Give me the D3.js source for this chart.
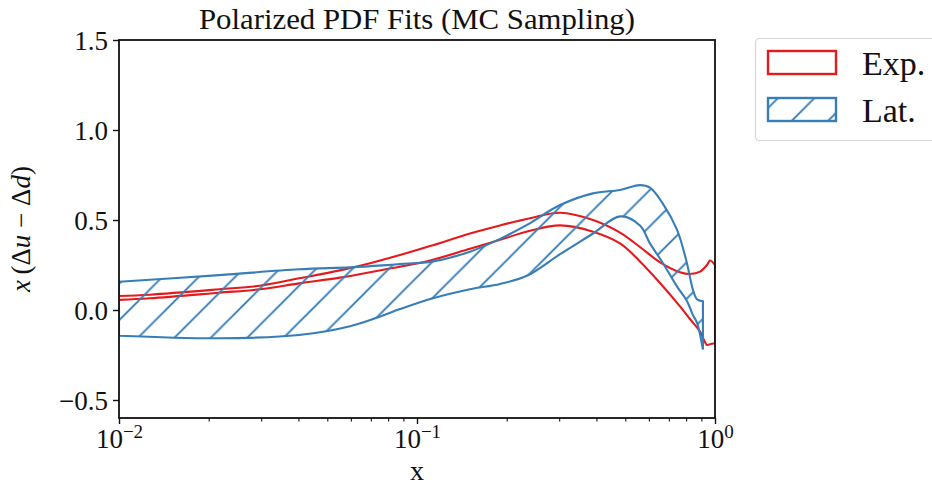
<!DOCTYPE html>
<html>
<head>
<meta charset="utf-8">
<script src="https://cdn.jsdelivr.net/npm/d3@7"></script>
<style>
  body { margin: 0; background: #fff; }
  text { font-family: "Liberation Serif", "DejaVu Serif", serif; fill: #111; }
</style>
</head>
<body>
<div id="chart"></div>
<script>
// Exp. band (red): upper / lower bound on a shared x grid
const expX  = [0.01, 0.0127, 0.0217, 0.0297, 0.0402, 0.0551, 0.0696, 0.0877, 0.1106, 0.1506, 0.19, 0.2394, 0.302, 0.3896, 0.48, 0.56, 0.654, 0.763, 0.824, 0.891, 0.94, 0.962, 1.0];
const expHi = [0.078, 0.085, 0.115, 0.135, 0.176, 0.22, 0.26, 0.305, 0.355, 0.425, 0.47, 0.51, 0.54, 0.50, 0.43, 0.35, 0.265, 0.21, 0.20, 0.213, 0.25, 0.275, 0.25];
const expLo = [0.056, 0.065, 0.096, 0.115, 0.148, 0.18, 0.21, 0.24, 0.275, 0.34, 0.39, 0.44, 0.47, 0.435, 0.37, 0.27, 0.15, 0.02, -0.05, -0.12, -0.194, -0.19, -0.185];

// Lat. band (blue, hatched)
const latX  = [0.01, 0.0217, 0.0402, 0.0596, 0.0769, 0.0877, 0.1132, 0.1506, 0.19, 0.2339, 0.302, 0.3896, 0.48, 0.56, 0.605, 0.669, 0.746, 0.805, 0.844, 0.870, 0.911];
const latHi = [0.157, 0.194, 0.226, 0.237, 0.248, 0.255, 0.27, 0.324, 0.395, 0.473, 0.583, 0.648, 0.667, 0.694, 0.68, 0.59, 0.445, 0.26, 0.11, 0.06, 0.048];
const latLo = [-0.143, -0.157, -0.139, -0.09, -0.03, 0.005, 0.065, 0.115, 0.145, 0.19, 0.31, 0.425, 0.52, 0.47, 0.37, 0.26, 0.13, 0.05, -0.03, -0.07, -0.22];

const yTicks = [-0.5, 0.0, 0.5, 1.0, 1.5];
const xMajor = [0.01, 0.1, 1];
const xMinor = [];
[0.01, 0.1].forEach(d => { for (let k = 2; k <= 9; k++) xMinor.push(d * k); });
const xExp = ["\u22122", "\u22121", "0"];
const legendLabels = ["Exp.", "Lat."];

const colRed = "#e41a1c", colBlue = "#377eb8";
const W = 932, H = 486;
const plot = { left: 119, right: 715, top: 40, bottom: 418 };

const svg = d3.select("#chart").append("svg").attr("width", W).attr("height", H);

const x = d3.scaleLog().domain([0.01, 1]).range([plot.left, plot.right]);
const y = d3.scaleLinear().domain([-0.6, 1.5]).range([plot.bottom, plot.top]);

// hatch pattern, in page coordinates
const P = 36.4, ph = 2.5;
const defs = svg.append("defs");
const pat = defs.append("pattern")
    .attr("id", "hatch")
    .attr("patternUnits", "userSpaceOnUse")
    .attr("width", P).attr("height", P);
pat.append("path")
    .attr("d", `M-2,${ph + 2}L${ph + 2},-2M${ph - 2},${P + 2}L${P + 2},${ph - 2}`)
    .attr("stroke", colBlue).attr("stroke-width", 1.9).attr("fill", "none");

defs.append("clipPath").attr("id", "clip")
  .append("rect")
    .attr("x", plot.left).attr("y", plot.top)
    .attr("width", plot.right - plot.left).attr("height", plot.bottom - plot.top);

const band = (xs, lo, hi) => d3.area()
    .x((d, i) => x(xs[i]))
    .y0((d, i) => y(lo[i]))
    .y1((d, i) => y(hi[i]))
    .curve(d3.curveCatmullRom.alpha(0.5))(xs);

const g = svg.append("g").attr("clip-path", "url(#clip)");
g.append("path")
    .attr("d", band(expX, expLo, expHi))
    .attr("fill", "none").attr("stroke", colRed).attr("stroke-width", 2.1);
g.append("path")
    .attr("d", band(latX, latLo, latHi))
    .attr("fill", "url(#hatch)").attr("stroke", colBlue).attr("stroke-width", 2.1);

// y axis
const yAxis = svg.append("g")
    .attr("transform", `translate(${plot.left},0)`)
    .call(d3.axisLeft(y).tickValues(yTicks).tickSize(6).tickPadding(5)
        .tickFormat(d => d3.format(".1f")(d).replace("-", "\u2212")));
yAxis.select(".domain").remove();
yAxis.selectAll("line").attr("stroke", "#111").attr("stroke-width", 1.4);
yAxis.selectAll("text").attr("font-size", 27).attr("dy", "0.34em")
    .style("font-family", "'Liberation Serif', serif");

// x axis: minor then major ticks
const xMinAxis = svg.append("g")
    .attr("transform", `translate(0,${plot.bottom})`)
    .call(d3.axisBottom(x).tickValues(xMinor).tickSize(3.5).tickFormat(""));
xMinAxis.select(".domain").remove();
xMinAxis.selectAll("line").attr("stroke", "#111").attr("stroke-width", 1.1);

const xAxis = svg.append("g")
    .attr("transform", `translate(0,${plot.bottom})`)
    .call(d3.axisBottom(x).tickValues(xMajor).tickSize(6).tickFormat(""));
xAxis.select(".domain").remove();
xAxis.selectAll("line").attr("stroke", "#111").attr("stroke-width", 1.4);
xAxis.selectAll(".tick").each(function(d, i) {
  const t = d3.select(this).append("text")
      .attr("y", 30).attr("text-anchor", "middle")
      .attr("font-size", 27).attr("fill", "#111")
      .style("font-family", "'Liberation Serif', serif");
  t.append("tspan").text("10");
  t.append("tspan").attr("dy", -10).attr("font-size", 19).text(xExp[i]);
});

// frame
svg.append("rect")
    .attr("x", plot.left).attr("y", plot.top)
    .attr("width", plot.right - plot.left).attr("height", plot.bottom - plot.top)
    .attr("fill", "none").attr("stroke", "#111").attr("stroke-width", 1.8);

// title and labels
svg.append("text")
    .attr("x", (plot.left + plot.right) / 2).attr("y", 29)
    .attr("text-anchor", "middle").attr("font-size", 29)
    .attr("textLength", 436).attr("lengthAdjust", "spacingAndGlyphs")
    .text("Polarized PDF Fits (MC Sampling)");

svg.append("text")
    .attr("x", (plot.left + plot.right) / 2).attr("y", 480)
    .attr("text-anchor", "middle").attr("font-size", 28)
    .text("x");

const yl = svg.append("text")
    .attr("transform", `translate(30,${(plot.top + plot.bottom) / 2}) rotate(-90)`)
    .attr("text-anchor", "middle").attr("font-size", 27);
yl.append("tspan").attr("font-style", "italic").text("x");
yl.append("tspan").text("\u2009(\u0394");
yl.append("tspan").attr("font-style", "italic").text("u");
yl.append("tspan").text(" \u2212 \u0394");
yl.append("tspan").attr("font-style", "italic").text("d");
yl.append("tspan").text(")");

// legend
const lg = svg.append("g");
lg.append("rect")
    .attr("x", 755.5).attr("y", 38.5).attr("width", 200).attr("height", 102).attr("rx", 4)
    .attr("fill", "#fff").attr("stroke", "#d6d6d6").attr("stroke-width", 1.2);
const items = [
  { label: legendLabels[0], stroke: colRed, fill: "none", y: 51 },
  { label: legendLabels[1], stroke: colBlue, fill: "url(#hatch)", y: 98 }
];
items.forEach(it => {
  lg.append("rect")
      .attr("x", 768).attr("y", it.y).attr("width", 68).attr("height", 23)
      .attr("fill", it.fill).attr("stroke", it.stroke).attr("stroke-width", 2.4);
  lg.append("text")
      .attr("x", 862).attr("y", it.y + 24).attr("font-size", 34)
      .text(it.label);
});
</script>
</body>
</html>
